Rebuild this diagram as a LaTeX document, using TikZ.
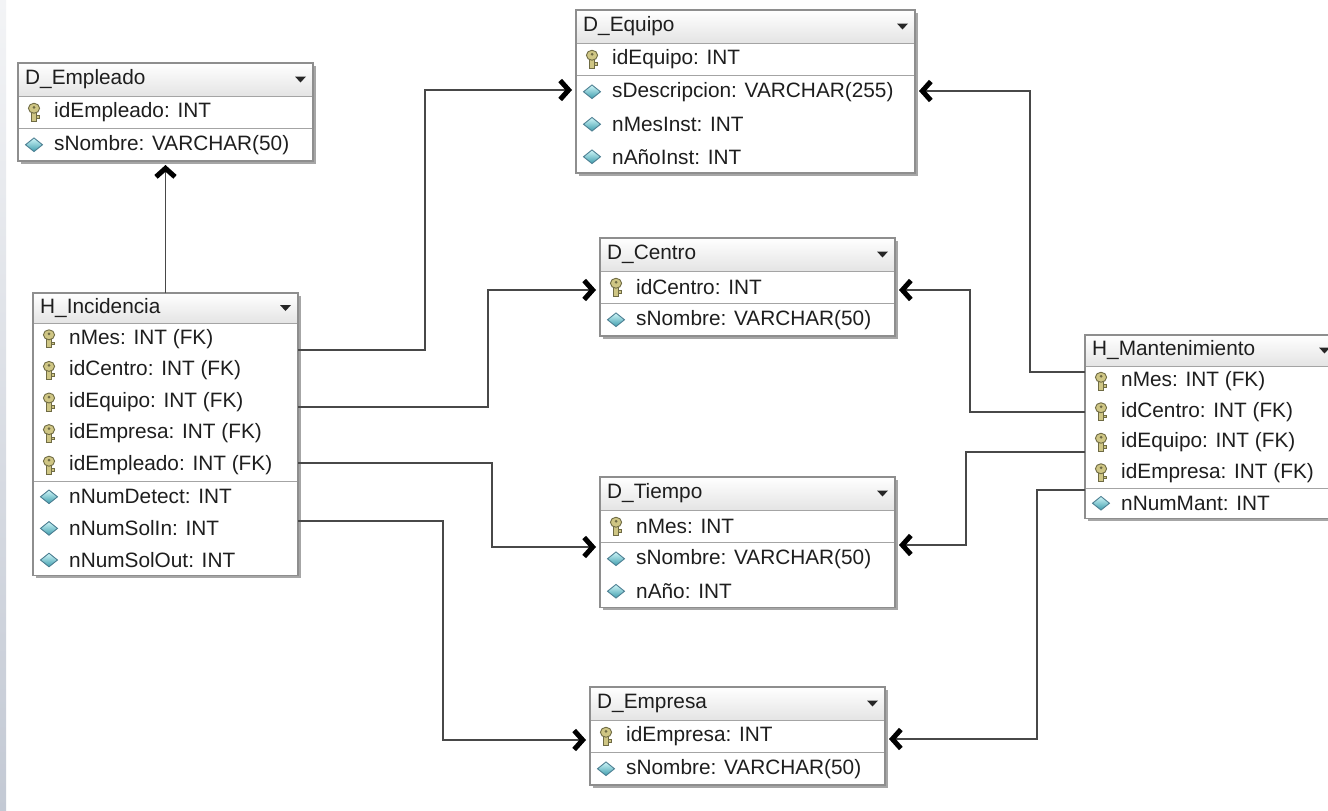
\documentclass[tikz,border=0pt]{standalone}
\usepackage{fontspec}
\setmainfont{Liberation Sans}
\usetikzlibrary{arrows.meta,calc}

\definecolor{linegray}{HTML}{484848}
\definecolor{boxgray}{HTML}{8E8E8E}
\definecolor{shadowgray}{HTML}{A6A6A6}
\definecolor{sepgray}{HTML}{A4A4A4}
\definecolor{headgray}{HTML}{E4E4E4}
\definecolor{keyfill}{HTML}{CFC684}
\definecolor{keyline}{HTML}{6F6B44}
\definecolor{attrlight}{HTML}{CFF6F8}
\definecolor{attrdark}{HTML}{3E9DAD}
\definecolor{attrline}{HTML}{4D7F92}
\definecolor{txt}{HTML}{1E1E1E}
\definecolor{stripdark}{HTML}{C3C9D4}
\definecolor{striplight}{HTML}{F3F4F6}

\tikzset{
  x=1pt, y=-1pt,
  tablebox/.style={fill=white, inner sep=0pt, outer sep=0pt, rectangle},
  rowtext/.style={anchor=west, inner sep=0pt, text=txt, font=\fontsize{20.8}{24}\selectfont},
  titletext/.style={anchor=west, inner sep=0pt, text=txt, font=\fontsize{20.8}{24}\selectfont},
  fk/.style={draw=linegray, line width=1.7pt, line join=miter,
    -{Straight Barb[length=8.5pt, width=19pt, line width=5pt, color=black]},
    shorten >=4pt},
  pics/keyicon/.style={code={
    \filldraw[fill=keyfill, draw=keyline, line width=0.9pt]
      (-2.6,-1) rectangle (2.6,9);
    \filldraw[fill=keyfill, draw=keyline, line width=0.9pt]
      (2.6,3.5) -- (5,3.5) -- (5,6) -- (2.6,6);
    \filldraw[fill=keyfill, draw=keyline, line width=0.9pt]
      (0,-4) ellipse [x radius=5.6pt, y radius=5pt];
    \fill[keyline] (0,-5) circle [radius=1.5pt];
  }},
  pics/attricon/.style={code={
    \shade[top color=attrlight, bottom color=attrdark, draw=attrline, line width=0.9pt]
      (-8.5,0) -- (0,-6.8) -- (8.5,0) -- (0,6.8) -- cycle;
  }}
}

% #1 name, #2 left, #3 top, #4 width, #5 number of rows, #6 number of key rows,
% #7 title, #8 list of kind/text rows (header height \hh, row height \rh)
\newcommand\ertable[8]{%
  \pgfmathsetmacro\tabh{\hh+#5*\rh}%
  \pgfmathsetmacro\sepy{\hh+#6*\rh}%
  \fill[shadowgray] (#2+2.5,#3+2.5) rectangle ++(#4,\tabh);
  \node[tablebox, anchor=north west, minimum width=#4pt, minimum height=\tabh pt]
    (#1) at (#2,#3) {};
  \shade[top color=white, bottom color=headgray]
    (#1.north west) rectangle ($(#1.north east)+(0,\hh)$);
  \draw[sepgray, line width=1pt] ($(#1.north west)+(0,\hh)$) -- ++(#4,0);
  \draw[sepgray, line width=1pt] ($(#1.north west)+(0,\sepy)$) -- ++(#4,0);
  \draw[boxgray, line width=1.3pt] (#1.north west) rectangle (#1.south east);
  \node[titletext] (#1-title) at ($(#1.north west)+(7,\hh/2)$) {#7};
  \fill[black!85] ($(#1.north east)+(-18,\hh/2-3)$) -- ++(11,0) -- ++(-5.5,6) -- cycle;
  \foreach \kind/\txt [count=\i] in {#8} {
    \pgfmathsetmacro\ry{\hh+(\i-0.5)*\rh}
    \pic at ($(#1.north west)+(16,\ry)$) {\kind};
    \node[rowtext] (#1-\i) at ($(#1.north west)+(36,\ry)$) {\txt};
  }
}

\begin{document}
\begin{tikzpicture}
\useasboundingbox (0,0) rectangle (1328,811);
\clip (0,0) rectangle (1328,811);
\fill[white] (0,0) rectangle (1328,811);
\shade[top color=striplight, bottom color=stripdark] (0,0) rectangle (6,811);

% dimension tables
\def\hh{33}\def\rh{32.5}
\ertable{empleado}{18}{63}{295}{2}{1}{D\_Empleado}
  {keyicon/idEmpleado: INT, attricon/sNombre: VARCHAR(50)}
\ertable{equipo}{576}{10}{339}{4}{1}{D\_Equipo}
  {keyicon/idEquipo: INT, attricon/sDescripcion: VARCHAR(255),
   attricon/nMesInst: INT, attricon/nAñoInst: INT}
\ertable{centro}{600}{238}{295}{2}{1}{D\_Centro}
  {keyicon/idCentro: INT, attricon/sNombre: VARCHAR(50)}
\ertable{tiempo}{600}{477}{295}{3}{1}{D\_Tiempo}
  {keyicon/nMes: INT, attricon/sNombre: VARCHAR(50), attricon/nAño: INT}
\ertable{empresa}{590}{687}{295}{2}{1}{D\_Empresa}
  {keyicon/idEmpresa: INT, attricon/sNombre: VARCHAR(50)}

% fact tables
\def\hh{30}\def\rh{31.6}
\ertable{incidencia}{33}{293}{265}{8}{5}{H\_Incidencia}
  {keyicon/nMes: INT (FK), keyicon/idCentro: INT (FK), keyicon/idEquipo: INT (FK),
   keyicon/idEmpresa: INT (FK), keyicon/idEmpleado: INT (FK),
   attricon/nNumDetect: INT, attricon/nNumSolIn: INT, attricon/nNumSolOut: INT}
\def\hh{31}\def\rh{30.5}
\ertable{mant}{1085}{335}{252}{5}{4}{H\_Mantenimiento}
  {keyicon/nMes: INT (FK), keyicon/idCentro: INT (FK), keyicon/idEquipo: INT (FK),
   keyicon/idEmpresa: INT (FK), attricon/nNumMant: INT}

% relationships of H_Incidencia
\draw[fk] (incidencia.north) -- (empleado.south);
\draw[fk] (incidencia.east |- 0,350) -- (425,350) -- (425,90) -- (equipo.west |- 0,90);
\draw[fk] (incidencia.east |- 0,407) -- (488,407) -- (488,290) -- (centro.west |- 0,290);
\draw[fk] (incidencia.east |- 0,463) -- (492,463) -- (492,547) -- (tiempo.west |- 0,547);
\draw[fk] (incidencia.east |- 0,521) -- (443,521) -- (443,740) -- (empresa.west |- 0,740);

% relationships of H_Mantenimiento
\draw[fk] (mant.west |- 0,372) -- (1030,372) -- (1030,91) -- (equipo.east |- 0,91);
\draw[fk] (mant.west |- 0,412) -- (970,412) -- (970,290) -- (centro.east |- 0,290);
\draw[fk] (mant.west |- 0,452) -- (966,452) -- (966,545) -- (tiempo.east |- 0,545);
\draw[fk] (mant.west |- 0,490) -- (1037,490) -- (1037,739) -- (empresa.east |- 0,739);
\end{tikzpicture}
\end{document}
